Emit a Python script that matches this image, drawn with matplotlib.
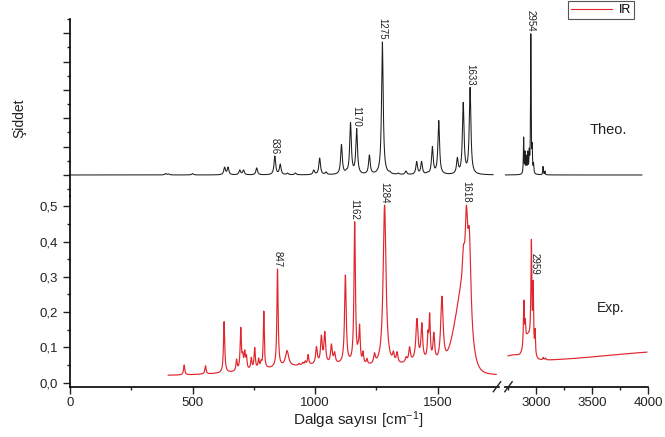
import numpy as np
import matplotlib
matplotlib.use("Agg")
import matplotlib.pyplot as plt
from matplotlib.ticker import MultipleLocator, FixedLocator, FuncFormatter, NullFormatter, NullLocator
from matplotlib.lines import Line2D

plt.rcParams['font.family'] = ['Liberation Sans', 'DejaVu Sans']
plt.rcParams['mathtext.fontset'] = 'custom'
plt.rcParams['mathtext.rm'] = 'Liberation Sans'
plt.rcParams['mathtext.it'] = 'Liberation Sans:italic'

# ---------------- theoretical (calculated) IR bands ----------------
# fingerprint region: position (cm-1), peak intensity (arb. units)
theo_fp_pos = [390, 402, 500, 631, 645, 693, 708, 762, 836, 858, 888, 920, 995, 1019,
               1045, 1108, 1128, 1145, 1170, 1222, 1275, 1305, 1340, 1371, 1415, 1435,
               1459, 1479, 1505, 1581, 1605, 1633]
theo_fp_int = [0.05, 0.04, 0.05, 0.28, 0.28, 0.18, 0.18, 0.25, 0.67, 0.39, 0.07, 0.07, 0.18, 0.60,
               0.11, 1.08, 0.21, 1.85, 1.64, 0.71, 4.69, 0.14, 0.07, 0.14, 0.48, 0.48,
               0.11, 1.01, 1.92, 0.62, 2.56, 3.09]
# C-H stretching region
theo_ch_pos = [2890, 2903, 2915, 2927, 2940, 2954, 2966, 2978, 3063, 3080]
theo_ch_int = [1.34, 0.85, 0.70, 0.85, 0.95, 4.98, 1.15, 0.45, 0.30, 0.14]

# ---------------- experimental IR spectrum ----------------
exp_fp_pos = [466, 553, 629, 680, 697, 705, 713, 720, 740, 754, 770, 780, 791, 847, 886,
              935, 950, 960, 972, 1006, 1026, 1040, 1067, 1080, 1124, 1162, 1176, 1182,
              1196, 1212, 1243, 1284, 1320, 1335, 1372, 1386, 1416, 1436, 1461, 1468,
              1485, 1518, 1583, 1593, 1606, 1618, 1630]
exp_fp_abs = [0.050, 0.048, 0.173, 0.067, 0.157, 0.088, 0.093, 0.080, 0.072, 0.100, 0.070,
              0.065, 0.203, 0.322, 0.091, 0.055, 0.058, 0.062, 0.080, 0.103, 0.135, 0.145,
              0.110, 0.088, 0.305, 0.456, 0.116, 0.166, 0.090, 0.069, 0.085, 0.503, 0.090,
              0.088, 0.074, 0.102, 0.182, 0.170, 0.149, 0.198, 0.143, 0.245, 0.227, 0.272,
              0.390, 0.503, 0.437]
exp_fp_hwhm = [3, 3, 3, 3, 3, 3, 3, 3, 3, 3, 3, 3, 2.5, 3, 8,
               3, 3, 3, 3, 4, 4, 4, 4, 4, 4, 3.5, 3, 3,
               3, 3, 4, 7, 4, 4, 4, 4, 5, 4, 3, 3,
               4, 6, 6, 6, 7, 6, 8]
exp_ch_pos = [2892, 2905, 2959, 2975, 2992, 3065, 3085]
exp_ch_abs = [0.234, 0.182, 0.406, 0.290, 0.154, 0.072, 0.070]
exp_ch_hwhm = [5, 4, 5, 4, 4, 5, 5]

# broad background bands (center, sigma, amplitude) and offsets
exp_fp_offset = 0.02
exp_fp_bg = [(1050, 250, 0.030), (1450, 80, 0.030), (1595, 30, 0.170)]
exp_ch_offset = 0.058
exp_ch_bg = [(2800, 90, 0.018), (2930, 30, 0.060), (4300, 650, 0.032)]

theo_labels = [836, 1170, 1275, 1633]
theo_ch_labels = [2954]
exp_labels = [847, 1162, 1284, 1618]


def lorentz(x, x0, g):
    return 1.0 / (1.0 + ((x - x0) / g) ** 2)


def background(x, offset, bands):
    x = np.asarray(x, float)
    y = np.full_like(x, offset)
    for c, s, a in bands:
        y += a * np.exp(-0.5 * ((x - c) / s) ** 2)
    return y


def spectrum(grid, pos, peak, hwhm, offset=0.0, bands=()):
    pos = np.asarray(pos, float)
    peak = np.asarray(peak, float)
    hwhm = np.broadcast_to(np.asarray(hwhm, float), pos.shape)
    m = lorentz(pos[:, None], pos[None, :], hwhm[None, :])
    amp = np.linalg.solve(m, peak - background(pos, offset, bands))
    amp = np.clip(amp, 0, None)
    prof = lorentz(grid[:, None], pos[None, :], hwhm[None, :])
    return background(grid, offset, bands) + prof @ amp


x_theo_fp = np.arange(0, 1727, 0.5)
x_theo_ch = np.arange(2725, 3946, 0.5)
x_exp_fp = np.arange(401, 1740, 0.5)
x_exp_ch = np.arange(2752, 3990, 0.5)

y_theo_fp = spectrum(x_theo_fp, theo_fp_pos, theo_fp_int, 4.0)
y_theo_ch = spectrum(x_theo_ch, theo_ch_pos, theo_ch_int, 3.0)
y_exp_fp = spectrum(x_exp_fp, exp_fp_pos, exp_fp_abs, exp_fp_hwhm, exp_fp_offset, exp_fp_bg)
y_exp_ch = spectrum(x_exp_ch, exp_ch_pos, exp_ch_abs, exp_ch_hwhm, exp_ch_offset, exp_ch_bg)

# ---------------- figure layout ----------------
W, H = 665, 437
fig = plt.figure(figsize=(W / 100, H / 100), dpi=100)


def px_axes(x0, y0, x1, y1):
    return fig.add_axes([x0 / W, 1 - y1 / H, (x1 - x0) / W, (y1 - y0) / H])


XL0, XL1 = 70, 498.75
XR0, XR1 = 504.6, 648
YT0, YM, YB1 = 19, 196, 386.7

ax_tl = px_axes(XL0, YT0, XL1, YM)
ax_tr = px_axes(XR0, YT0, XR1, YM)
ax_bl = px_axes(XL0, YM, XL1, YB1)
ax_br = px_axes(XR0, YM, XR1, YB1)

theo_c = '#1e1e1e'
exp_c = '#e0262c'

ax_tl.plot(x_theo_fp, y_theo_fp, color=theo_c, lw=0.75)
ax_tr.plot(x_theo_ch, y_theo_ch, color=theo_c, lw=0.75)
ax_bl.plot(x_exp_fp, y_exp_fp, color=exp_c, lw=0.85)
ax_br.plot(x_exp_ch, y_exp_ch, color=exp_c, lw=0.85)

for ax in (ax_tl, ax_bl):
    ax.set_xlim(0, 1750)
for ax in (ax_tr, ax_br):
    ax.set_xlim(2720, 4000)
for ax in (ax_tl, ax_tr):
    ax.set_ylim(-0.741, 5.5)
for ax in (ax_bl, ax_br):
    ax.set_ylim(-0.0113, 0.5289)

for ax in (ax_tl, ax_tr, ax_bl, ax_br):
    ax.patch.set_alpha(0)
    for s in ax.spines.values():
        s.set_visible(False)
        s.set_linewidth(1.2)
    ax.tick_params(which='both', direction='out', width=1.0, labelsize=9.5, colors='#222222')
    ax.tick_params(which='major', length=5)
    ax.tick_params(which='minor', length=2.5)

ax_tl.spines['left'].set_visible(True)
ax_bl.spines['left'].set_visible(True)
ax_bl.spines['bottom'].set_visible(True)
ax_br.spines['bottom'].set_visible(True)

# top panel: unlabeled intensity ticks
ax_tl.xaxis.set_major_locator(NullLocator())
ax_tl.xaxis.set_minor_locator(NullLocator())
ax_tl.yaxis.set_major_locator(MultipleLocator(1))
ax_tl.yaxis.set_minor_locator(MultipleLocator(0.5))
ax_tl.yaxis.set_major_formatter(NullFormatter())
ax_tr.xaxis.set_major_locator(NullLocator())
ax_tr.xaxis.set_minor_locator(NullLocator())
ax_tr.yaxis.set_major_locator(NullLocator())
ax_tr.yaxis.set_minor_locator(NullLocator())

# bottom panel
ax_bl.yaxis.set_major_locator(MultipleLocator(0.1))
ax_bl.yaxis.set_minor_locator(MultipleLocator(0.05))
ax_bl.yaxis.set_major_formatter(FuncFormatter(lambda v, _: f"{v:.1f}".replace('.', ',')))
ax_bl.xaxis.set_major_locator(MultipleLocator(500))
ax_bl.xaxis.set_minor_locator(FixedLocator([250, 750, 1250]))
ax_br.xaxis.set_major_locator(FixedLocator([3000, 3500, 4000]))
ax_br.xaxis.set_minor_locator(FixedLocator([2750, 3250, 3750]))
ax_br.yaxis.set_major_locator(NullLocator())
ax_br.yaxis.set_minor_locator(NullLocator())
ax_bl.tick_params(axis='x', pad=2.5)
ax_br.tick_params(axis='x', pad=2.5)


# peak labels
def label_peaks(ax, positions, pos_list, peak_list, dx=0.0, dy=1.5, va='bottom'):
    for p in positions:
        h = peak_list[pos_list.index(p)]
        ax.annotate(str(p), xy=(p, h), xytext=(dx, dy), textcoords='offset points',
                    rotation=270, ha='center', va=va, fontsize=7, color='#222222',
                    annotation_clip=False)


label_peaks(ax_tl, theo_labels, theo_fp_pos, theo_fp_int)
label_peaks(ax_tr, theo_ch_labels, theo_ch_pos, theo_ch_int)
label_peaks(ax_bl, exp_labels, exp_fp_pos, exp_fp_abs)
label_peaks(ax_br, [2959], exp_ch_pos, exp_ch_abs, dx=2.0, dy=-10.0, va='top')

# axis-break marks
for cx in (497.0, 508.5):
    fig.add_artist(Line2D([(cx - 3.7) / W, (cx + 3.7) / W],
                          [1 - (YB1 + 5) / H, 1 - (YB1 - 5) / H],
                          transform=fig.transFigure, color='#222222', lw=1.0))

# texts
fig.text(608 / W, 1 - 130 / H, 'Theo.', ha='center', va='center', fontsize=10.5, color='#222222')
fig.text(611 / W, 1 - 308 / H, 'Exp.', ha='center', va='center', fontsize=10, color='#222222')
fig.text(19 / W, 1 - 118 / H, 'Şiddet', ha='center', va='center', rotation=90,
         fontsize=10, color='#222222')
fig.text(358 / W, 1 - 420 / H, r'Dalga sayısı [cm$^{-1}$]', ha='center', va='center',
         fontsize=11, color='#222222')

leg = fig.legend(handles=[Line2D([], [], color=exp_c, lw=0.8)], labels=['IR'],
                 loc='upper right', bbox_to_anchor=(634 / W, 1 - 1 / H),
                 fancybox=False, edgecolor='#555555', fontsize=9, handlelength=3.3,
                 borderpad=0.25, handletextpad=0.5, borderaxespad=0.0, framealpha=1)
leg.get_frame().set_linewidth(0.8)

fig.savefig('out.png', dpi=100)
